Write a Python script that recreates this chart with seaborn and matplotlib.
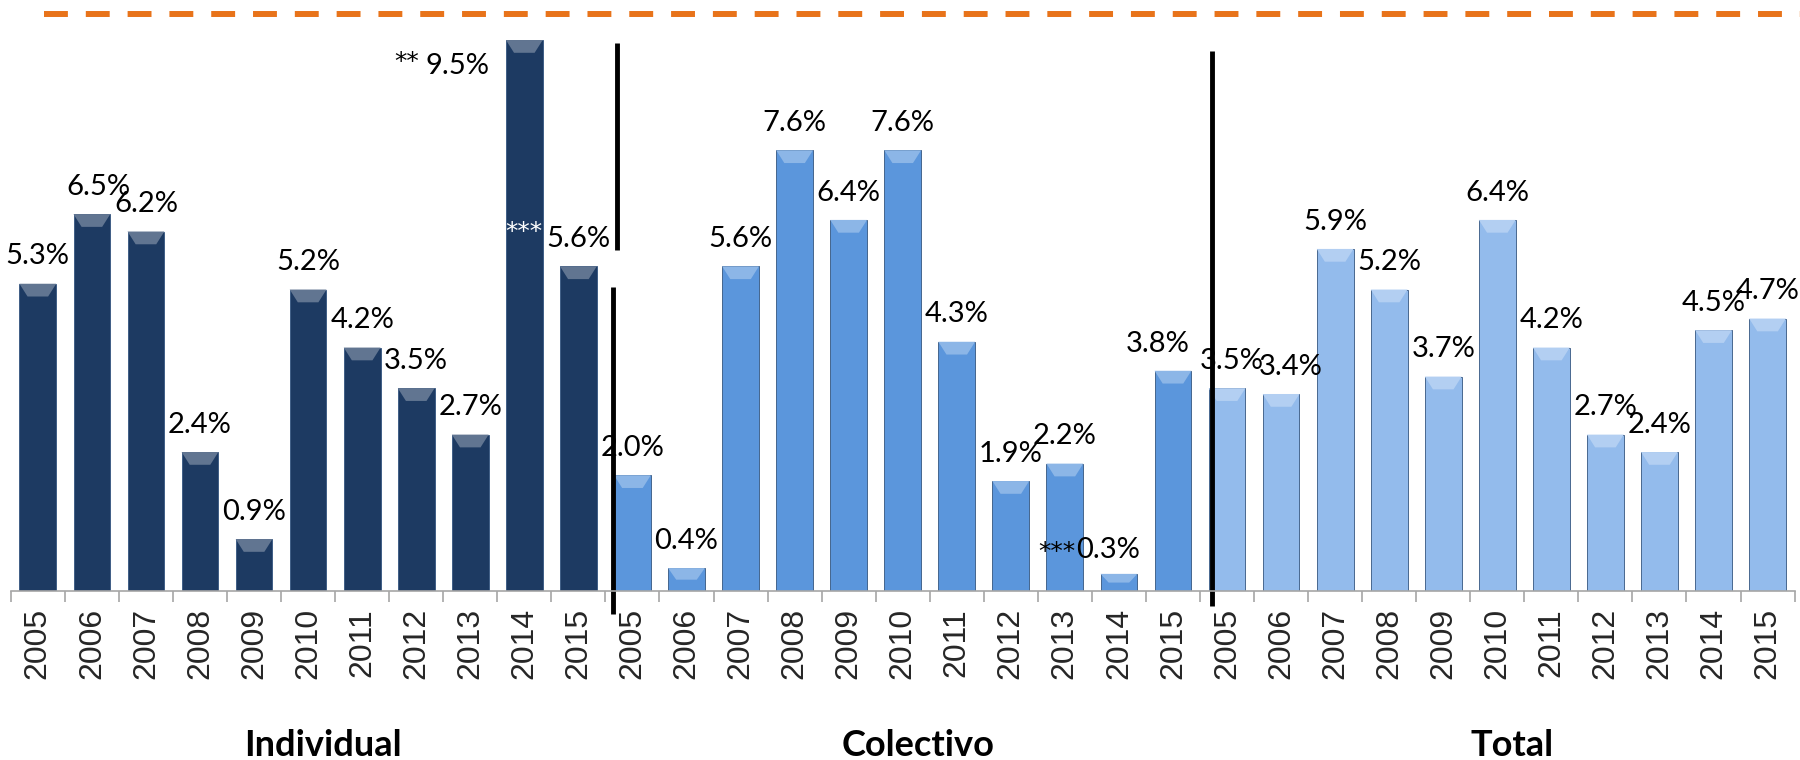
import numpy as np
import pandas as pd
import seaborn as sns
import matplotlib
matplotlib.use("Agg")
import matplotlib.pyplot as plt
import matplotlib.colors as mcolors
from matplotlib.patches import Polygon

# ============================== DATA ==============================

groups = ["Individual", "Colectivo", "Total"]
years = ["2005", "2006", "2007", "2008", "2009", "2010", "2011", "2012", "2013", "2014", "2015"]
individual = [5.3, 6.5, 6.2, 2.4, 0.9, 5.2, 4.2, 3.5, 2.7, 9.5, 5.6]
colectivo = [2.0, 0.4, 5.6, 7.6, 6.4, 7.6, 4.3, 1.9, 2.2, 0.3, 3.8]
total = [3.5, 3.4, 5.9, 5.2, 3.7, 6.4, 4.2, 2.7, 2.4, 4.5, 4.7]
group_colors = ["#1d3a62", "#5b96dc", "#93bbec"]

# ============================== DATAFRAME ==============================

rows = []
for group, values in zip(groups, [individual, colectivo, total]):
    for year, value in zip(years, values):
        rows.append({"Slot": f"{group} {year}", "Year": year, "Group": group, "Value": value})
df = pd.DataFrame(rows)

# ============================== PLOT ==============================

sns.set_theme(style="white")
plt.rcParams["font.family"] = ["Lato", "DejaVu Sans"]

fig = plt.figure(figsize=(18, 7.6), dpi=100)
ax = fig.add_axes([0.006, 0.222, 0.991, 0.7635])

sns.barplot(data=df, x="Slot", y="Value", hue="Group", order=df["Slot"].tolist(),
            hue_order=groups, palette=group_colors, dodge=False, width=0.68, saturation=1,
            edgecolor="#34557f", linewidth=0.6, legend=False, ax=ax)

# bevel at the top of each bar
for patch in ax.patches:
    x0, y0 = patch.get_x(), patch.get_y()
    w, h = patch.get_width(), patch.get_height()
    if h <= 0:
        continue
    base = np.array(mcolors.to_rgb(patch.get_facecolor()))
    light = base + (1 - base) * 0.3
    depth = min(0.22, h * 0.5)
    inset = w * 0.22
    ax.add_patch(Polygon([(x0, y0 + h), (x0 + w, y0 + h), (x0 + w - inset, y0 + h - depth),
                          (x0 + inset, y0 + h - depth)], closed=True, facecolor=light,
                         edgecolor="none", zorder=patch.get_zorder() + 0.1))

ax.set_ylim(0, 10.0)
ax.set_xlim(-0.5, len(df) - 0.5)
ax.set_xlabel("")
ax.set_ylabel("")
ax.set_yticks([])

ax.set_xticks(range(len(df)))
ax.set_xticklabels(df["Year"], rotation=90, fontsize=23, family=["Liberation Sans", "DejaVu Sans"])
ax.tick_params(axis="x", which="major", length=0, pad=12)
ax.set_xticks(np.arange(-0.5, len(df), 1.0), minor=True)
ax.tick_params(axis="x", which="minor", length=8, width=1.2, color="#a6a6a6", direction="out", bottom=True)

for side in ["left", "right", "top"]:
    ax.spines[side].set_visible(False)
ax.spines["bottom"].set_color("#a6a6a6")
ax.spines["bottom"].set_linewidth(1.2)

# value labels
LABEL_SIZE = 21
STAR_FONT = ["DejaVu Sans"]
special = {9: "left", 20: "shifted"}
nudge = {1: 0.12, 21: -0.28, 22: 0.08, 23: 0.18}
for i, value in enumerate(df["Value"]):
    if i in special:
        continue
    ax.text(i + nudge.get(i, 0), value + 0.47, f"{value:.1f}%", ha="center", va="center",
            fontsize=LABEL_SIZE, color="black")

ax.text(7.77, 9.05, f"{df['Value'][9]:.1f}%", ha="center", va="center", fontsize=LABEL_SIZE, color="black")
ax.text(6.83, 9.12, "**", ha="center", va="center", fontsize=18, family=STAR_FONT, color="black")
ax.text(9.0, 6.2, "***", ha="center", va="center", fontsize=18, family=STAR_FONT, color="white")
ax.text(19.8, df["Value"][20] + 0.42, f"{df['Value'][20]:.1f}%", ha="center", va="center", fontsize=LABEL_SIZE, color="black")
ax.text(18.85, df["Value"][20] + 0.38, "***", ha="center", va="center", fontsize=18, family=STAR_FONT, color="black")

# separators between groups
ax.plot([10.72, 10.72], [5.88, 9.45], color="black", lw=3.5, clip_on=False, solid_capstyle="butt")
ax.plot([10.64, 10.64], [-0.40, 5.25], color="black", lw=3.5, clip_on=False, solid_capstyle="butt")
ax.plot([21.72, 21.72], [-0.26, 9.31], color="black", lw=3.5, clip_on=False, solid_capstyle="butt")

# orange dashed reference line
ax.plot([0.11, 32.6], [9.95, 9.95], color="#e8731a", lw=4.3, dashes=(4, 3), clip_on=False)

# group labels
trans = matplotlib.transforms.blended_transform_factory(ax.transData, ax.transAxes)
for k, group in enumerate(groups):
    center = k * len(years) + (len(years) - 1) / 2
    ax.text(center + 0.28, -0.265, group, transform=trans, ha="center", va="center",
            fontsize=26, fontweight="bold", color="black")

fig.savefig("out.png", dpi=100)
